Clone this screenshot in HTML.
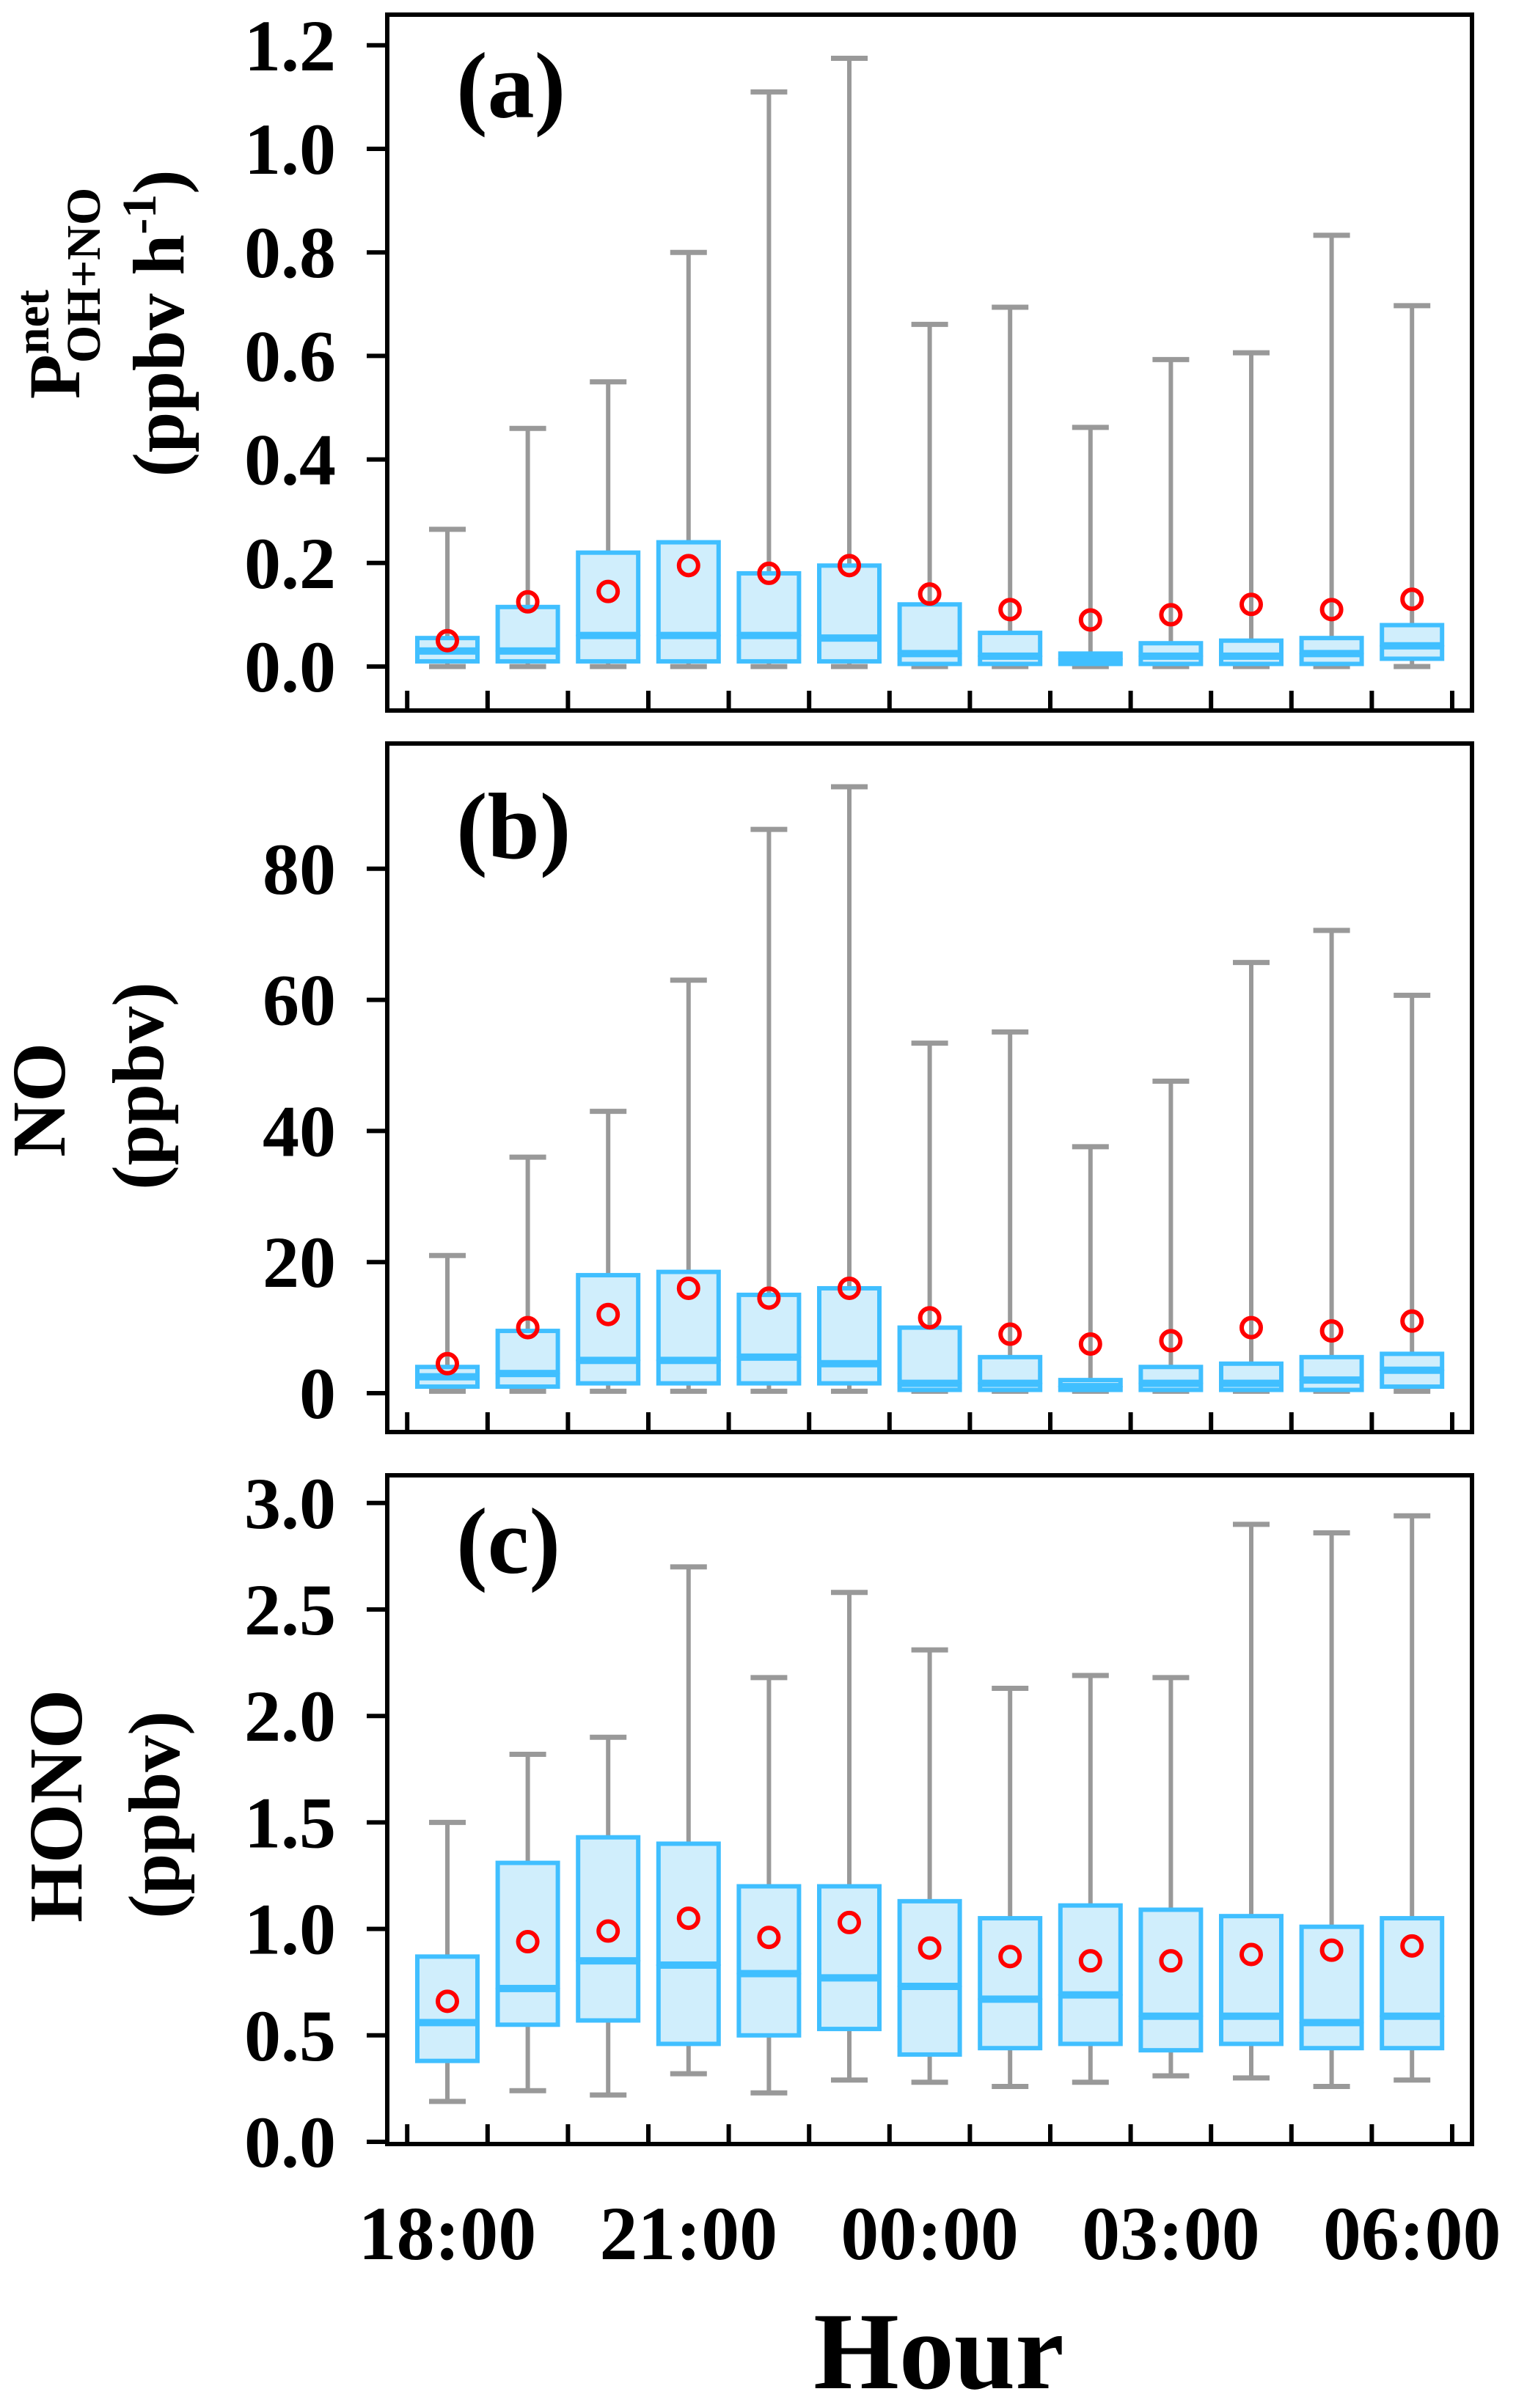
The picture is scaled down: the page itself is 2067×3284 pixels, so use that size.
<!DOCTYPE html>
<html><head><meta charset="utf-8">
<style>
html,body{margin:0;padding:0;background:#fff;}
svg{display:block;font-family:"Liberation Serif","Times New Roman",Times,serif;}
text{font-family:"Liberation Serif","Times New Roman",Times,serif;font-weight:700;fill:#000;}
</style></head>
<body>
<svg id="chart" xmlns="http://www.w3.org/2000/svg" width="2067" height="3284" viewBox="0 0 2067 3284" font-family="Liberation Serif, Times New Roman, serif" font-weight="bold">
<rect x="0" y="0" width="2067" height="3284" fill="#fff"/>
</svg>
<script>
// ---- data ----
const hours = ["18","19","20","21","22","23","00","01","02","03","04","05","06"];
const xTickLabels = ["18:00","21:00","00:00","03:00","06:00"];
const xTickLabelIdx = [0,3,6,9,12];

const aMin = [0,0,0,0,0,0,0,0,0,0,0,0,0];
const aQ1  = [0.01,0.01,0.01,0.01,0.01,0.01,0.005,0.005,0.005,0.005,0.005,0.005,0.015];
const aMed = [0.03,0.03,0.06,0.06,0.06,0.055,0.025,0.02,0.015,0.02,0.02,0.025,0.04];
const aQ3  = [0.055,0.115,0.22,0.24,0.18,0.195,0.12,0.065,0.025,0.045,0.05,0.055,0.08];
const aMax = [0.265,0.46,0.55,0.80,1.11,1.175,0.661,0.694,0.462,0.593,0.606,0.833,0.697];
const aMean= [0.05,0.125,0.145,0.195,0.18,0.195,0.14,0.11,0.09,0.10,0.12,0.11,0.13];
const aTicks = ["0.0","0.2","0.4","0.6","0.8","1.0","1.2"];

const bMin = [0.3,0.3,0.3,0.3,0.3,0.3,0.3,0.3,0.3,0.3,0.3,0.3,0.3];
const bQ1  = [1,1,1.5,1.5,1.5,1.5,0.5,0.5,0.5,0.5,0.5,0.5,1];
const bMed = [2.5,3,5,5,5.5,4.5,1.5,1.5,1,1.5,1.5,2,3.5];
const bQ3  = [4,9.5,18,18.5,15,16,10,5.5,2,4,4.5,5.5,6];
const bMax = [21,36,43,63,86,92.5,53.4,55.1,37.6,47.6,65.7,70.6,60.7];
const bMean= [4.5,10,12,16,14.5,16,11.5,9,7.5,8,10,9.5,11];
const bTicks = ["0","20","40","60","80"];

const cMin = [0.19,0.24,0.22,0.32,0.23,0.29,0.28,0.26,0.28,0.31,0.30,0.26,0.29];
const cQ1  = [0.38,0.55,0.57,0.46,0.50,0.53,0.41,0.44,0.46,0.43,0.46,0.44,0.44];
const cMed = [0.56,0.72,0.85,0.83,0.79,0.77,0.73,0.67,0.69,0.59,0.59,0.56,0.59];
const cQ3  = [0.87,1.31,1.43,1.40,1.20,1.20,1.13,1.05,1.11,1.09,1.06,1.01,1.05];
const cMax = [1.50,1.82,1.90,2.70,2.18,2.58,2.31,2.13,2.19,2.18,2.90,2.86,2.94];
const cMean= [0.66,0.94,0.99,1.05,0.96,1.03,0.91,0.87,0.85,0.85,0.88,0.90,0.92];
const cTicks = ["0.0","0.5","1.0","1.5","2.0","2.5","3.0"];

// ---- layout ----
const NS = "http://www.w3.org/2000/svg";
const svg = document.getElementById("chart");
const LEFT = 528, RIGHT = 2007;
const X0 = 610, DX = 109.6;
function xScale(i){ return X0 + DX*i; }
function mk(tag, attrs, parent){
  const e = document.createElementNS(NS, tag);
  for (const k in attrs) e.setAttribute(k, attrs[k]);
  (parent||svg).appendChild(e);
  return e;
}

const panels = [
  {key:"a", top:20, bottom:969, y0:909, pxPerUnit:706, tickStep:0.2, ticks:aTicks,
   min:aMin,q1:aQ1,med:aMed,q3:aQ3,max:aMax,mean:aMean, lab:"(a)", labY:160},
  {key:"b", top:1014, bottom:1953, y0:1900, pxPerUnit:8.94, tickStep:20, ticks:bTicks,
   min:bMin,q1:bQ1,med:bMed,q3:bQ3,max:bMax,mean:bMean, lab:"(b)", labY:1170},
  {key:"c", top:2012, bottom:2924, y0:2921, pxPerUnit:290.4, tickStep:0.5, ticks:cTicks,
   min:cMin,q1:cQ1,med:cMed,q3:cQ3,max:cMax,mean:cMean, lab:"(c)", labY:2145}
];

panels.forEach(p => {
  const g = mk("g", {});
  
  
  const y = v => p.y0 - v*p.pxPerUnit;
  const frame = mk("rect", {x:LEFT, y:p.top, width:RIGHT-LEFT, height:p.bottom-p.top, fill:"none", stroke:"#000", "stroke-width":6}, g);
  
  
  p.ticks.forEach((t, k) => {
    const ty = y(k*p.tickStep);
    const tl = mk("line", {x1:LEFT-28, x2:LEFT, y1:ty, y2:ty, stroke:"#000", "stroke-width":6}, g);
    
    
    const tx = mk("text", {x:458, y:ty+34, "text-anchor":"end", "font-size":100, "font-family":"Liberation Serif, serif", "font-weight":"bold"}, g);
    
    
    tx.textContent = t;
  });
  for (let k=0;k<14;k++){
    const tx = xScale(k) - DX/2;
    const l = mk("line", {x1:tx, x2:tx, y1:p.bottom, y2:p.bottom-27, stroke:"#000", "stroke-width":6}, g);
    
    
  }
  hours.forEach((h, i) => {
    const cx = xScale(i), w = 82;
    const bg = mk("g", {}, g);
    
    
    mk("line", {x1:cx, x2:cx, y1:y(p.max[i]), y2:y(p.q3[i]), stroke:"#999", "stroke-width":6}, bg);
    mk("line", {x1:cx, x2:cx, y1:y(p.q1[i]), y2:y(p.min[i]), stroke:"#999", "stroke-width":6}, bg);
    mk("line", {x1:cx-25, x2:cx+25, y1:y(p.max[i]), y2:y(p.max[i]), stroke:"#999", "stroke-width":7}, bg);
    mk("line", {x1:cx-25, x2:cx+25, y1:y(p.min[i]), y2:y(p.min[i]), stroke:"#999", "stroke-width":7}, bg);
    const yq3 = y(p.q3[i]), ymed = y(p.med[i]), yq1 = y(p.q1[i]);
    mk("rect", {x:cx-w/2, y:Math.min(yq3, ymed-2), width:w, height:Math.max(2, ymed-2-yq3), fill:"#D0EEFC", stroke:"#40BFFF", "stroke-width":6}, bg);
    mk("rect", {x:cx-w/2, y:ymed+2, width:w, height:Math.max(2, yq1-ymed-2), fill:"#D0EEFC", stroke:"#40BFFF", "stroke-width":6}, bg);
    const m = mk("circle", {cx:cx, cy:y(p.mean[i]), r:13, fill:"none", stroke:"#f00", "stroke-width":6}, bg);
    
    
  });
  const pl = mk("text", {x:622, y:p.labY, "font-size":128, "font-family":"Liberation Serif, serif", "font-weight":"bold"}, g);
  
  
  pl.textContent = p.lab;
});

xTickLabels.forEach((t, k) => {
  const tx = mk("text", {x:xScale(xTickLabelIdx[k]), y:3081, "text-anchor":"middle", "font-size":104, "font-family":"Liberation Serif, serif", "font-weight":"bold"});
  
  
  tx.textContent = t;
});
const xt = mk("text", {x:1280, y:3257, "text-anchor":"middle", "font-size":150, "font-family":"Liberation Serif, serif", "font-weight":"bold"});


xt.textContent = "Hour";
</script>

<svg style="position:absolute;left:0;top:0" width="520" height="3284" font-family="Liberation Serif, serif" font-weight="bold">
  <g>
    <text x="0" y="0" font-size="100" transform="translate(108,400) rotate(-90)" text-anchor="middle">P<tspan font-size="66" dy="-42">net</tspan><tspan font-size="66" dx="-100" dy="70">OH+NO</tspan></text>
    <text x="0" y="0" font-size="100" transform="translate(250,441) rotate(-90)" text-anchor="middle">(ppbv h<tspan font-size="66" dy="-38">-1</tspan><tspan dy="38">)</tspan></text>
  </g>
  <g>
    <text x="0" y="0" font-size="104" transform="translate(88,1500) rotate(-90)" text-anchor="middle">NO</text>
    <text x="0" y="0" font-size="100" transform="translate(222,1481) rotate(-90)" text-anchor="middle">(ppbv)</text>
  </g>
  <g>
    <text x="0" y="0" font-size="104" transform="translate(111,2463) rotate(-90)" text-anchor="middle">HONO</text>
    <text x="0" y="0" font-size="100" transform="translate(244,2475) rotate(-90)" text-anchor="middle">(ppbv)</text>
  </g>
</svg>
</body></html>
